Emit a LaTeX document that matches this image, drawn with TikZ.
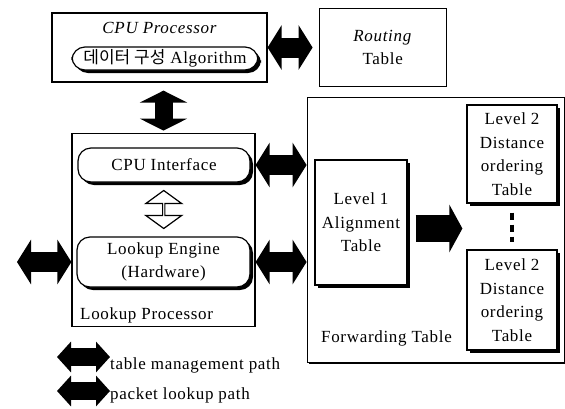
\documentclass[tikz,border=0pt]{standalone}
\usepackage{fontspec}
\setmainfont{Liberation Serif}[LetterSpace=4.0]
\newfontfamily\krfont{Noto Sans CJK KR}
\usetikzlibrary{positioning}
\usetikzlibrary{arrows.meta, shapes.arrows, shadows, calc}

\begin{document}
\begin{tikzpicture}[x=1pt, y=-1pt,
        every node/.style={font=\fontsize{17}{23.5}\selectfont, align=center},
        box/.style={draw, line width=1.2pt, fill=white},
        shadowbox/.style={box, drop shadow={shadow xshift=3pt, shadow yshift=-3pt, fill=black, opacity=1}},
        pill/.style={shadowbox, rounded corners=13pt},
        bigarrow/.style={line width=20pt, {Triangle[length=14pt,width=44pt]}-{Triangle[length=14pt,width=44pt]}},
        legarrow/.style={line width=18pt, {Triangle[length=14pt,width=30pt]}-{Triangle[length=14pt,width=30pt]}},
        hollowarrow/.style={draw, line width=1.2pt, fill=white, double arrow, double arrow head extend=9pt,
            double arrow tip angle=108, minimum width=36pt, minimum height=38pt, inner sep=0pt}
    ]
    \useasboundingbox (0,0) rectangle (565,408);

    % Nodes
    \node[box, minimum width=215pt, minimum height=69pt] (cpu) at (159.5,47.5) {};
    \node[below=9pt of cpu.north, inner sep=1pt] (cputitle) {\itshape CPU Processor};
    \node[pill, minimum width=186pt, minimum height=23pt, inner sep=0pt] (algo) at (165,58.5) {{\krfont 데이터 구성} Algorithm};
    \node[box, minimum width=127pt, minimum height=78pt, right=51pt of cpu] (routing) {\textit{Routing}\\ Table};

    \node[box, minimum width=183pt, minimum height=193pt, below=50pt of cpu, xshift=4pt] (lookup) {};
    \node[pill, minimum width=172pt, minimum height=34pt] (cpuif) at (164,165) {CPU Interface};
    \node[pill, minimum width=173pt, minimum height=50pt] (engine) at (163.5,262) {Lookup Engine\\ (Hardware)};
    \node[anchor=west, inner sep=0pt] (lptitle) at (80,315) {Lookup Processor};

    \node[box, drop shadow={shadow xshift=2pt, shadow yshift=-2pt, fill=black, opacity=1},
        minimum width=257pt, minimum height=265pt, right=51pt of lookup] (fwd) {};
    \node[shadowbox, minimum width=92pt, minimum height=125pt] (level1) at (361,222.5) {Level 1\\ Alignment\\ Table};
    \node[shadowbox, minimum width=90pt, minimum height=98pt] (l2a) at (512,154) {Level 2\\ Distance\\ ordering\\ Table};
    \node[shadowbox, minimum width=90pt, minimum height=100pt] (l2b) at (512,300) {Level 2\\ Distance\\ ordering\\ Table};
    \node[anchor=west, inner sep=0pt] (fwdtitle) at (321,338) {Forwarding Table};

    % Edges
    \draw[bigarrow, shorten >=6pt] (cpu.east) -- (cpu.east -| routing.west);
    \draw[bigarrow, line width=18pt, {Triangle[length=12pt,width=47pt]}-{Triangle[length=12pt,width=47pt]},
        shorten >=8pt, shorten <=2pt] (lookup.north) -- (lookup.north |- cpu.south);
    \draw[bigarrow] (cpuif.east -| lookup.east) -- (cpuif.east -| fwd.west);
    \draw[bigarrow] (engine.east -| lookup.east) -- (engine.east -| fwd.west);
    \coordinate (netin) at (17,262);
    \draw[bigarrow] (netin) -- (engine.west -| lookup.west);
    \path (cpuif.south) -- (engine.north) node[midway, hollowarrow, rotate=90] (update) {};
    \draw[line width=27pt, -{Triangle[length=13pt,width=47pt]}, shorten <=8pt, shorten >=4pt]
        ([yshift=-6pt]level1.east) -- ([yshift=-6pt]level1.east -| l2a.west);
    \draw[line width=4pt, dash pattern=on 7pt off 5pt] ($(l2a.south)+(0,9)$) -- ($(l2b.north)+(0,-7)$);

    % Legend
    \coordinate (tmA) at (57,357);
    \coordinate (tmB) at (110,357);
    \draw[legarrow] (tmA) -- (tmB);
    \node[anchor=west, inner sep=0pt] (tmtext) at (110,365) {table management path};
    \coordinate (plA) at (57,391);
    \coordinate (plB) at (110,391);
    \draw[legarrow] (plA) -- (plB);
    \node[anchor=west, inner sep=0pt] (pltext) at (110,395) {packet lookup path};
\end{tikzpicture}
\end{document}
